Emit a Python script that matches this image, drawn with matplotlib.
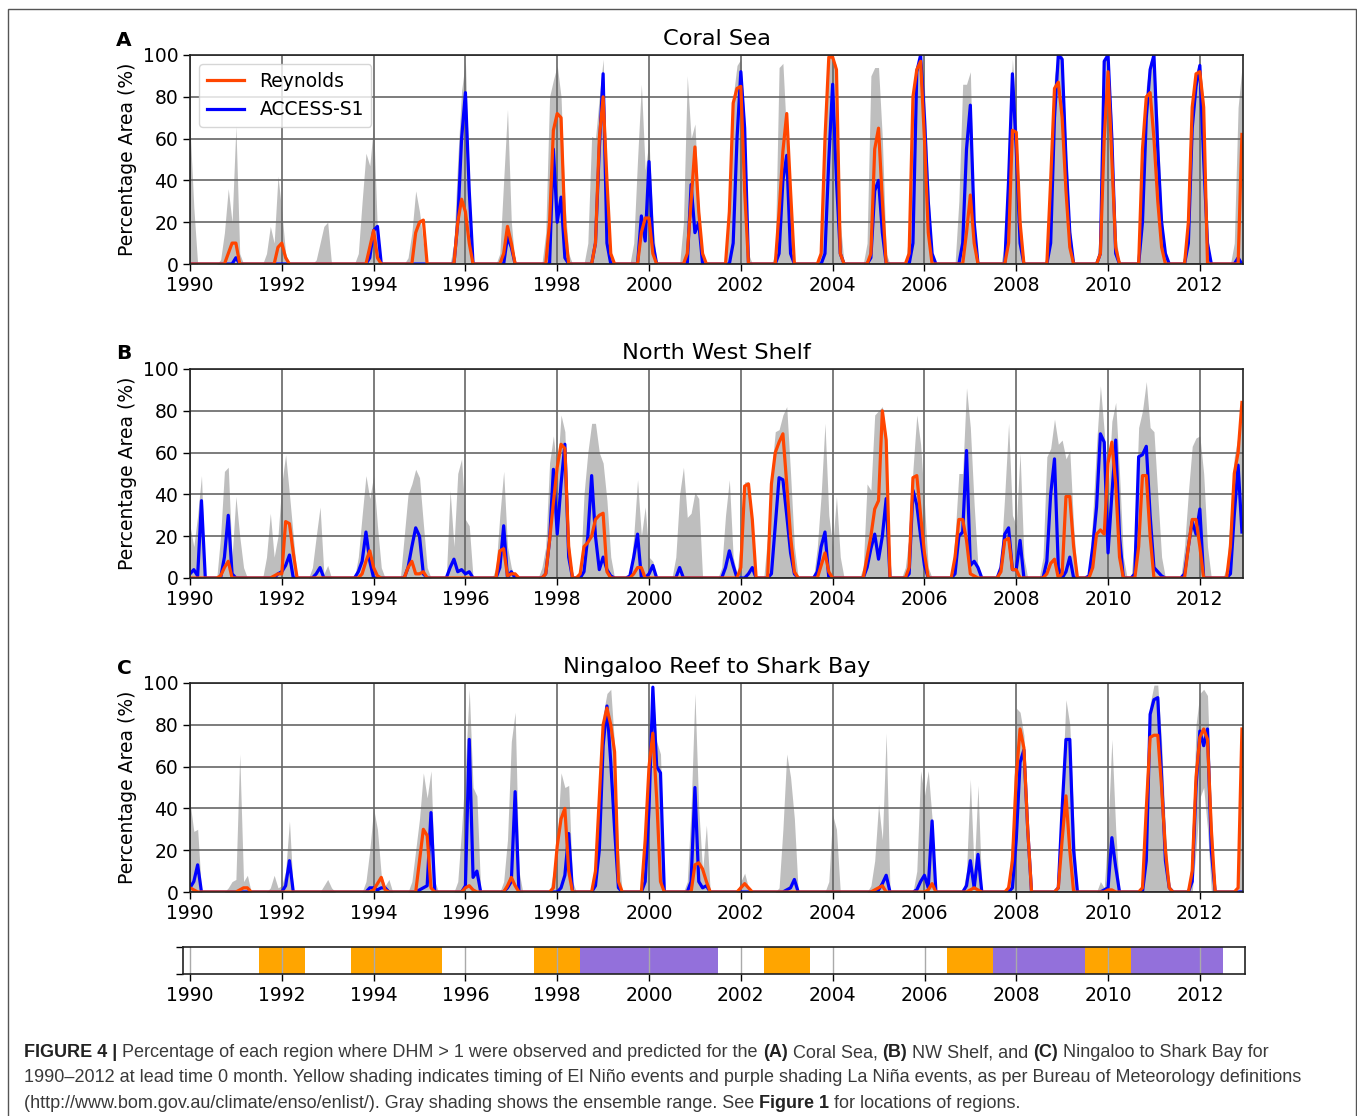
import numpy as np
import matplotlib
matplotlib.use("Agg")
import matplotlib.pyplot as plt
from matplotlib.patches import Rectangle

# ---------------- data (monthly, Jan 1990 .. Dec 2012) ----------------
# each entry: (year, first month, consecutive monthly values in %)
years_start, years_end = 1990, 2012
xticks = list(range(1990, 2013, 2))
yticks = [0, 20, 40, 60, 80, 100]
titles = ["Coral Sea", "North West Shelf", "Ningaloo Reef to Shark Bay"]
panel_letters = ["A", "B", "C"]

cs_rey = [(1990, 11, [5, 10, 10]), (1991, 12, [8, 10, 3]), (1993, 12, [8, 16, 3]),
          (1994, 12, [15, 20, 21]), (1995, 11, [20, 31, 25, 10]), (1996, 11, [5, 18, 10]),
          (1997, 11, [20, 64, 72, 70, 18]), (1998, 11, [10, 60, 80, 40, 5]),
          (1999, 11, [15, 22, 22, 5]), (2000, 11, [5, 30, 56, 25, 5]),
          (2001, 10, [25, 77, 84, 85, 35]), (2002, 11, [25, 54, 72, 35]),
          (2003, 10, [5, 60, 99, 99, 93, 5]), (2004, 11, [5, 55, 65, 30]),
          (2005, 9, [5, 80, 93, 97, 60, 15]), (2006, 12, [15, 33, 10]),
          (2007, 11, [10, 64, 63, 20]), (2008, 10, [40, 84, 87, 70, 35, 8]),
          (2009, 11, [5, 60, 92, 50, 8]), (2010, 10, [55, 80, 82, 60, 30, 8]),
          (2011, 10, [20, 75, 91, 92, 75]), (2012, 12, [62])]
cs_acc = [(1991, 1, [3]), (1993, 12, [3, 16, 18]), (1995, 11, [20, 60, 82, 35]),
          (1996, 12, [13, 8]), (1997, 12, [55, 20, 32, 3]), (1998, 11, [10, 55, 91, 10]),
          (1999, 11, [23, 11, 49, 10]), (2000, 12, [38, 15, 20]),
          (2001, 11, [10, 60, 92, 65]), (2002, 11, [5, 40, 52, 5]),
          (2003, 11, [5, 50, 86, 40, 5]), (2004, 11, [3, 35, 40, 15]),
          (2005, 10, [10, 92, 100, 70, 30, 5]), (2006, 11, [10, 55, 76, 20]),
          (2007, 11, [40, 91, 55, 10]), (2008, 10, [10, 70, 100, 98, 50, 15]),
          (2009, 11, [5, 97, 100, 60, 5]), (2010, 10, [20, 70, 93, 100, 55, 20, 5]),
          (2011, 10, [10, 65, 85, 95, 50, 10]), (2012, 11, [3])]
cs_hi = [(1990, 1, [66, 27]), (1990, 9, [2, 15, 36, 20, 66, 5]), (1991, 9, [5, 18, 10, 42, 25, 5]),
         (1992, 10, [2, 10, 18, 20]), (1993, 9, [5, 30, 53, 47, 67, 15]),
         (1994, 10, [3, 15, 35, 25, 10]), (1995, 10, [10, 50, 83, 97, 40]),
         (1996, 10, [5, 40, 74, 20]), (1997, 10, [15, 80, 88, 95, 80, 30, 5]),
         (1998, 9, [10, 61, 60, 80, 98, 40, 5]), (1999, 9, [10, 50, 86, 45, 59, 20]),
         (2000, 10, [20, 90, 60, 67, 30]), (2001, 10, [40, 80, 95, 98, 70, 5]),
         (2002, 10, [5, 94, 96, 60, 20]), (2003, 10, [10, 70, 99, 99, 95, 20]),
         (2004, 10, [10, 90, 94, 94, 60, 5]), (2005, 9, [15, 85, 95, 100, 85, 40, 5]),
         (2006, 10, [30, 86, 86, 92, 20]), (2007, 10, [10, 60, 98, 70, 25]),
         (2008, 10, [50, 90, 100, 100, 60, 20]), (2009, 11, [20, 98, 100, 70, 15]),
         (2010, 10, [40, 85, 97, 100, 70, 25, 5]), (2011, 10, [30, 80, 92, 97, 78, 10]),
         (2012, 10, [10, 75, 94])]
cs_lo = []

nw_rey = [(1990, 9, [1, 5, 8]), (1991, 11, [1, 2, 2, 27, 26, 12]), (1993, 10, [2, 8, 13, 5, 1]),
          (1994, 10, [5, 8, 2, 2, 3]), (1996, 10, [13, 14, 1, 2, 2]),
          (1997, 10, [2, 18, 36, 53, 64, 62, 15]), (1998, 7, [2, 15, 17, 20, 28, 30, 31, 3]),
          (1999, 9, [2, 5, 5]), (2002, 1, [5, 44, 45, 28]), (2002, 9, [45, 60, 65, 69, 45, 20, 3]),
          (2003, 10, [6, 12, 3]), (2004, 10, [10, 20, 33, 37, 80, 66]),
          (2005, 9, [5, 48, 49, 30, 12]), (2006, 9, [10, 28, 28, 18, 2, 1]),
          (2007, 9, [3, 18, 19, 4, 4]), (2008, 9, [2, 7, 9]), (2009, 1, [2, 39, 39, 15]),
          (2009, 9, [5, 21, 23, 21, 55, 65, 45, 10]), (2010, 9, [15, 49, 49, 20]),
          (2011, 10, [15, 28, 28, 15]), (2012, 9, [15, 50, 60, 84])]
nw_acc = [(1990, 1, [2, 4, 1, 37]), (1990, 10, [10, 30, 2]), (1991, 12, [2, 3, 6, 11]),
          (1992, 10, [2, 5]), (1993, 9, [3, 8, 22, 8]), (1994, 10, [5, 15, 24, 20, 2]),
          (1995, 9, [5, 9, 3, 4, 2, 3]), (1996, 10, [5, 25, 0, 3]),
          (1997, 10, [2, 18, 52, 21, 45, 64, 10]), (1998, 8, [3, 20, 49, 20, 4, 10, 4, 1]),
          (1999, 8, [1, 10, 21, 0, 0, 2, 6]), (2000, 9, [5]), (2001, 9, [5, 13, 6]),
          (2002, 3, [2, 5]), (2002, 9, [2, 25, 48, 47, 30, 12, 2]), (2003, 9, [3, 15, 22]),
          (2004, 10, [5, 14, 21, 9, 20, 38]), (2005, 9, [2, 42, 35, 20, 6]),
          (2006, 9, [2, 20, 22, 61, 6, 8, 5]), (2007, 9, [5, 21, 24, 4, 4, 18]),
          (2008, 9, [8, 40, 57, 5]), (2009, 2, [3, 10]),
          (2009, 8, [1, 15, 34, 69, 65, 12, 40, 66, 20]), (2010, 8, [2, 58, 59, 63, 30, 5, 3, 1]),
          (2011, 9, [2, 15, 27, 21, 33]), (2012, 9, [2, 30, 54, 22])]
nw_hi = [(1990, 1, [25, 15, 30, 49]), (1990, 9, [20, 51, 53, 10, 39, 20, 5]),
         (1991, 9, [10, 31, 10, 20, 45, 59, 40, 20]), (1992, 9, [5, 20, 34, 2, 6]),
         (1993, 9, [10, 30, 49, 38, 49, 25, 5]), (1994, 9, [20, 40, 45, 52, 48, 26, 5]),
         (1995, 9, [42, 15, 50, 57, 28, 25]), (1996, 9, [5, 30, 51, 15, 5]),
         (1997, 9, [5, 15, 55, 68, 50, 78, 70, 20]), (1998, 8, [40, 60, 74, 74, 60, 55, 37, 10]),
         (1999, 9, [20, 47, 20, 34, 10, 8]), (2000, 8, [10, 40, 53, 29, 31, 41, 38]),
         (2001, 8, [5, 30, 47, 10, 2, 20, 46, 46, 30]), (2002, 8, [20, 50, 70, 71, 78, 82, 50, 15]),
         (2003, 9, [15, 40, 74, 30, 15, 39, 10]), (2004, 9, [5, 45, 42, 78, 80, 82, 68]),
         (2005, 8, [5, 20, 52, 78, 64, 36, 5]), (2006, 9, [20, 50, 50, 91, 72, 35, 5]),
         (2007, 9, [10, 40, 74, 30, 25, 60, 10]), (2008, 8, [10, 58, 62, 76, 64, 66, 57, 61, 25]),
         (2009, 9, [30, 64, 92, 70, 41, 75, 84, 50, 10]), (2010, 8, [20, 72, 80, 94, 72, 70, 40, 10]),
         (2011, 9, [15, 41, 63, 67, 68, 50, 15]), (2012, 8, [5, 30, 58, 68, 77])]
nw_lo = []

nr_rey = [(1990, 1, [2, 1]), (1991, 2, [1, 2, 2]), (1994, 1, [1, 4, 7, 1]),
          (1995, 1, [15, 30, 27, 2]), (1996, 1, [2, 3, 1]), (1996, 12, [3, 7, 3]),
          (1997, 12, [2, 22, 35, 40, 10]), (1998, 11, [10, 45, 80, 88, 80, 67, 5]),
          (1999, 12, [25, 60, 76, 45, 5]), (2001, 1, [13, 14, 11, 5]), (2002, 1, [2, 4, 2]),
          (2004, 12, [1, 2, 3]), (2006, 2, [1, 4]), (2007, 1, [1, 2, 1]),
          (2007, 11, [2, 15, 55, 78, 69, 30]), (2008, 12, [2, 25, 46, 20]), (2010, 1, [1, 1]),
          (2010, 10, [2, 40, 74, 75, 75, 50, 20, 2]), (2011, 11, [10, 55, 74, 78, 73, 30]),
          (2012, 11, [2, 78])]
nr_acc = [(1990, 1, [2, 5, 13]), (1992, 2, [3, 15]), (1993, 12, [2, 2, 1, 2, 2]),
          (1995, 1, [1, 2, 3, 38]), (1996, 1, [3, 73, 7, 10]), (1996, 12, [2, 5, 48]),
          (1998, 2, [2, 8, 28]), (1998, 11, [3, 20, 70, 89, 62, 30, 2]),
          (1999, 12, [5, 40, 98, 60, 57]), (2000, 12, [5, 50, 5, 2, 3]), (2003, 1, [1, 2, 6]),
          (2005, 1, [1, 4, 8]), (2005, 11, [1, 5, 8, 2, 34]), (2006, 12, [3, 15, 2, 18]),
          (2007, 12, [2, 25, 62, 68, 30]), (2008, 12, [2, 40, 73, 73, 20]),
          (2009, 12, [1, 2, 26, 12]), (2010, 11, [15, 85, 92, 93, 55, 15, 2]),
          (2011, 11, [5, 50, 77, 70, 78, 20])]
nr_hi = [(1990, 1, [43, 29, 30]), (1990, 11, [2, 5, 6, 66, 5, 8]), (1991, 10, [2, 8, 2, 3, 10, 34]),
         (1992, 12, [3, 6, 2]), (1993, 11, [5, 20, 40, 30, 8, 3, 6]),
         (1994, 11, [5, 20, 35, 57, 45, 58, 5]), (1995, 11, [5, 30, 60, 97, 50, 46]),
         (1996, 11, [5, 25, 72, 86, 10]), (1997, 12, [10, 25, 57, 50, 51, 5]),
         (1998, 11, [10, 40, 85, 95, 97, 70, 20]), (1999, 12, [10, 70, 98, 72, 66]),
         (2000, 11, [5, 40, 95, 40, 10, 32]), (2002, 1, [5, 9, 2]), (2002, 11, [2, 30, 66, 55, 35]),
         (2003, 12, [5, 37, 30]), (2004, 11, [3, 15, 42, 25, 76]), (2005, 11, [10, 58, 46, 58, 35]),
         (2006, 12, [10, 54, 10, 51]), (2007, 11, [5, 30, 88, 86, 75, 35]),
         (2008, 12, [5, 50, 92, 80, 35]), (2009, 11, [5, 2, 30, 73, 30]),
         (2010, 10, [5, 40, 90, 99, 99, 72, 30, 2]), (2011, 11, [20, 80, 95, 97, 94, 40]),
         (2012, 12, [78])]
nr_lo = [(2011, 12, [20, 45, 50, 30])]

elnino = [(1991.5, 1992.5), (1993.5, 1995.5), (1997.5, 1998.5),
          (2002.5, 2003.5), (2006.5, 2007.5), (2009.5, 2010.5)]
lanina = [(1998.5, 2001.5), (2007.5, 2009.5), (2010.5, 2012.5)]

caption_lines = [
    [("FIGURE 4 |", True), (" Percentage of each region where DHM > 1 were observed and predicted for the ", False),
     ("(A)", True), (" Coral Sea, ", False), ("(B)", True), (" NW Shelf, and ", False), ("(C)", True),
     (" Ningaloo to Shark Bay for", False)],
    [("1990\u20132012 at lead time 0 month. Yellow shading indicates timing of El Ni\u00f1o events and purple "
      "shading La Ni\u00f1a events, as per Bureau of Meteorology definitions", False)],
    [("(http://www.bom.gov.au/climate/enso/enlist/). Gray shading shows the ensemble range. See ", False),
     ("Figure 1", True), (" for locations of regions.", False)],
]

# ---------------- helpers ----------------
N = (years_end - years_start + 1) * 12
t = years_start + np.arange(N) / 12.0


def monthly(events):
    v = np.zeros(N)
    for y, m, vals in events:
        i = (y - years_start) * 12 + m - 1
        v[i:i + len(vals)] = vals
    return v


panels = [(cs_rey, cs_acc, cs_lo, cs_hi), (nw_rey, nw_acc, nw_lo, nw_hi), (nr_rey, nr_acc, nr_lo, nr_hi)]

W, H = 1357, 1116
fig = plt.figure(figsize=(W / 100, H / 100), dpi=100)
fig.patch.set_facecolor("white")

# outer frame
fig.patches.append(Rectangle((8 / W, -0.01), (1356 - 8) / W, 1.01 - 9 / H,
                             transform=fig.transFigure, fill=False, edgecolor="#555555", lw=1.0))

ORANGE = "#FF4500"
BLUE = "#0000FF"
GRAY = "#BEBEBE"
FS = 13.5
LW = 2.3

tops = [55, 369, 683]
left_px, right_px = 190, 1243
ph = 209
for k, (rey, acc, lo, hi) in enumerate(panels):
    top = tops[k]
    ax = fig.add_axes([left_px / W, 1 - (top + ph) / H, (right_px - left_px) / W, ph / H])
    r = monthly(rey)
    a = monthly(acc)
    h = monthly(hi)
    l = monthly(lo)
    ax.fill_between(t, l, h, color=GRAY, lw=0, zorder=1)
    la, = ax.plot(t, a, color=BLUE, lw=LW, zorder=3, label="ACCESS-S1")
    lr, = ax.plot(t, r, color=ORANGE, lw=LW, zorder=4, label="Reynolds")
    ax.set_xlim(1990, 2012.94)
    ax.set_ylim(0, 100)
    ax.set_xticks(xticks)
    ax.set_yticks(yticks)
    ax.grid(True, color="#666666", lw=1.2, zorder=2)
    ax.set_axisbelow(False)
    for gl in ax.get_xgridlines() + ax.get_ygridlines():
        gl.set_zorder(2)
    ax.tick_params(labelsize=FS, length=5, width=1.0, direction="out")
    for s in ax.spines.values():
        s.set_linewidth(1.2)
        s.set_color("#222222")
        s.set_zorder(5)
    ax.set_ylabel("Percentage Area (%)", fontsize=FS)
    ax.set_title(titles[k], fontsize=16.2, pad=7)
    fig.text(124 / W, 1 - (top - 15) / H, panel_letters[k], fontsize=14.5, fontweight="bold",
             ha="center", va="center")
    if k == 0:
        leg = ax.legend(handles=[lr, la], loc="upper left", fontsize=FS, framealpha=0.8,
                        borderaxespad=0.5)
        leg.set_zorder(10)

# ENSO bar
eax = fig.add_axes([183 / W, 1 - 974 / H, (1245 - 183) / W, 27 / H])
for s0, s1 in elnino:
    eax.axvspan(s0, s1, color="#FFA500", lw=0, zorder=1)
for s0, s1 in lanina:
    eax.axvspan(s0, s1, color="#9370DB", lw=0, zorder=1)
for x in xticks:
    eax.axvline(x, color="#AAAAAA", lw=1.0, zorder=2)
eax.set_xlim(1989.85, 2012.98)
eax.set_ylim(0, 1)
eax.set_xticks(xticks)
eax.set_yticks([0, 1])
eax.set_yticklabels([])
eax.tick_params(labelsize=FS, length=5, width=1.0)
for s in eax.spines.values():
    s.set_linewidth(1.2)
    s.set_color("#222222")

# caption with bold runs
renderer = fig.canvas.get_renderer()
cap_font = "Liberation Sans"


def text_width(s, size, bold):
    tt = fig.text(0, 0, "|" + s + "|", fontsize=size, family=cap_font,
                  fontweight="bold" if bold else "normal")
    w1 = tt.get_window_extent(renderer).width
    tt.remove()
    tt = fig.text(0, 0, "||", fontsize=size, family=cap_font,
                  fontweight="bold" if bold else "normal")
    w2 = tt.get_window_extent(renderer).width
    tt.remove()
    return w1 - w2


target = 1306 - 24
size = 12.0
w = sum(text_width(s, size, b) for s, b in caption_lines[1])
size = size * target / w

baselines = [1057, 1082, 1108]
for li, runs in enumerate(caption_lines):
    x = 24.0
    for s, b in runs:
        fig.text(x / W, 1 - baselines[li] / H, s, fontsize=size, family=cap_font,
                 fontweight="bold" if b else "normal", color="#222222" if b else "#3a3a3a",
                 ha="left", va="baseline")
        x += text_width(s, size, b)

fig.savefig("out.png", dpi=100, facecolor="white")
